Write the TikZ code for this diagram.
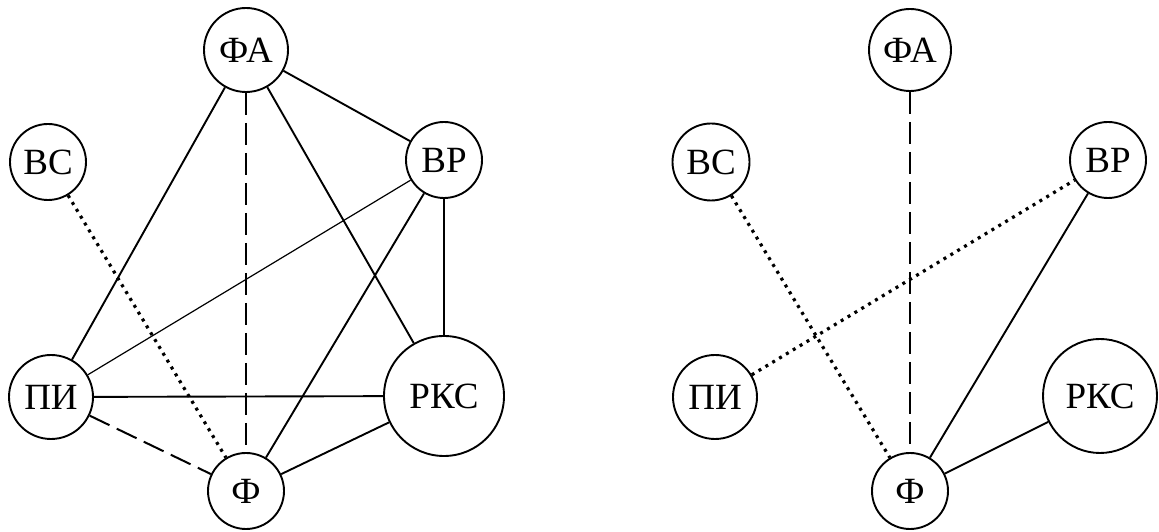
\documentclass[tikz,border=0pt]{standalone}
\usepackage{fontspec}
\setmainfont{Liberation Serif}
\begin{document}
\begin{tikzpicture}[x=1pt,y=1pt,
  vert/.style={circle,draw,line width=1.9pt,inner sep=0pt,font=\fontsize{37}{37}\selectfont},
  edge/.style={line width=1.9pt},
  thinedge/.style={line width=1.2pt},
  dashedge/.style={line width=2pt,dash pattern=on 22pt off 8pt},
  dotedge/.style={line width=3.2pt,dash pattern=on 3pt off 5pt}]
\useasboundingbox (0,0) rectangle (1159,532);
% left graph
\node[vert,minimum size=84pt] (fa) at (246,482) {ФА};
\node[vert,minimum size=76pt] (vs) at (48,370) {ВС};
\node[vert,minimum size=76pt] (vr) at (444,372) {ВР};
\node[vert,minimum size=84pt] (pi) at (51,135) {ПИ};
\node[vert,minimum size=120pt] (rks) at (444,136) {РКС};
\node[vert,minimum size=76pt] (f) at (246,41) {Ф};
\draw[edge] (fa) -- (pi);
\draw[dashedge] (fa) -- (f);
\draw[edge] (fa) -- (vr);
\draw[edge] (fa) -- (rks);
\draw[thinedge] (vr) -- (pi);
\draw[edge] (vr) -- (f);
\draw[edge] (vr) -- (rks);
\draw[edge] (pi) -- (rks);
\draw[dashedge] (pi) -- (f);
\draw[dotedge] (vs) -- (f);
\draw[edge] (rks) -- (f);
% right graph
\node[vert,minimum size=82pt] (fa2) at (910,482) {ФА};
\node[vert,minimum size=77pt] (vs2) at (711,370) {ВС};
\node[vert,minimum size=76pt] (vr2) at (1108,372) {ВР};
\node[vert,minimum size=84pt] (pi2) at (715,135) {ПИ};
\node[vert,minimum size=114pt] (rks2) at (1100,136) {РКС};
\node[vert,minimum size=76pt] (f2) at (910,41) {Ф};
\draw[dashedge] (fa2) -- (f2);
\draw[dotedge] (vs2) -- (f2);
\draw[dotedge] (pi2) -- (vr2);
\draw[edge] (vr2) -- (f2);
\draw[edge] (rks2) -- (f2);
\end{tikzpicture}
\end{document}
